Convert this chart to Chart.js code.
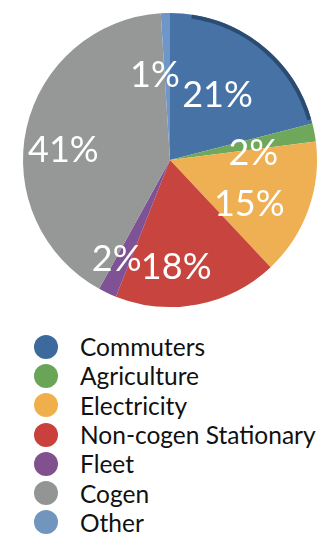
<!DOCTYPE html>
<html>
<head>
<meta charset="utf-8">
<script src="https://cdn.jsdelivr.net/npm/chart.js@4/dist/chart.umd.min.js"></script>
<style>
    html, body { margin: 0; padding: 0; background: #fff; }
    body { width: 323px; height: 534px; position: relative; overflow: hidden; font-family: Lato, "Open Sans", sans-serif; }
    #chart-wrap { position: absolute; left: 0; top: 0; width: 323px; height: 314px; }
    #legend { position: absolute; left: 34px; top: 332px; margin: 0; padding: 0; list-style: none; }
    #legend li { height: 29.3px; display: flex; align-items: center; font-size: 24.5px; color: #111; white-space: nowrap; }
    #legend .dot { width: 24px; height: 24px; border-radius: 50%; margin-right: 22px; flex: none; }
</style>
</head>
<body>
<div id="chart-wrap"><canvas id="pie-chart"></canvas></div>
<ul id="legend"></ul>
<script>
const categories = ['Commuters', 'Agriculture', 'Electricity', 'Non-cogen Stationary', 'Fleet', 'Cogen', 'Other'];
const shares = [21, 2, 15, 18, 2, 41, 1];
const sliceColors = ['#4672a6', '#6fa85a', '#eeb052', '#c8443f', '#7f5195', '#969898', '#6e96c8'];
const legendColors = ['#3d6a9d', '#6aa457', '#efb04c', '#c9403c', '#80508f', '#939494', '#7096be'];

// Percent labels drawn inside each slice
const sliceLabels = {
    id: 'sliceLabels',
    afterDatasetsDraw(chart, args, opts) {
        const ctx = chart.ctx;
        const meta = chart.getDatasetMeta(0);
        ctx.save();
        ctx.fillStyle = '#fff';
        ctx.font = opts.font;
        ctx.textAlign = 'center';
        ctx.textBaseline = 'middle';
        meta.data.forEach(function(arc, i) {
            const mid = (arc.startAngle + arc.endAngle) / 2;
            const r = arc.outerRadius * opts.radius;
            const x = arc.x + opts.dx + Math.cos(mid) * r;
            const y = arc.y + opts.dy + Math.sin(mid) * r;
            ctx.fillText(shares[i] + '%', x, y);
        });
        ctx.restore();
    }
};

// Dark rim along the outer edge of the first slice
const sliceRim = {
    id: 'sliceRim',
    afterDatasetsDraw(chart) {
        const arc = chart.getDatasetMeta(0).data[0];
        const ctx = chart.ctx;
        ctx.save();
        ctx.strokeStyle = '#2c4b70';
        ctx.lineWidth = 4;
        ctx.beginPath();
        ctx.arc(arc.x, arc.y, arc.outerRadius - 2, arc.startAngle + 0.15, arc.endAngle - 0.03);
        ctx.stroke();
        ctx.restore();
    }
};

new Chart(document.getElementById('pie-chart'), {
    type: 'pie',
    data: {
        labels: categories,
        datasets: [{
            data: shares,
            backgroundColor: sliceColors,
            borderWidth: 0
        }]
    },
    options: {
        responsive: true,
        maintainAspectRatio: false,
        animation: false,
        layout: { padding: { left: 23, right: 6, top: 13, bottom: 7 } },
        plugins: {
            legend: { display: false },
            tooltip: { enabled: false },
            sliceLabels: { font: '36px Lato', radius: 0.66, dx: -12, dy: 12 }
        }
    },
    plugins: [sliceRim, sliceLabels]
});

// Legend
const legend = document.getElementById('legend');
categories.forEach(function(name, i) {
    const li = document.createElement('li');
    const dot = document.createElement('span');
    dot.className = 'dot';
    dot.style.background = legendColors[i];
    li.appendChild(dot);
    li.appendChild(document.createTextNode(name));
    legend.appendChild(li);
});
</script>
</body>
</html>
